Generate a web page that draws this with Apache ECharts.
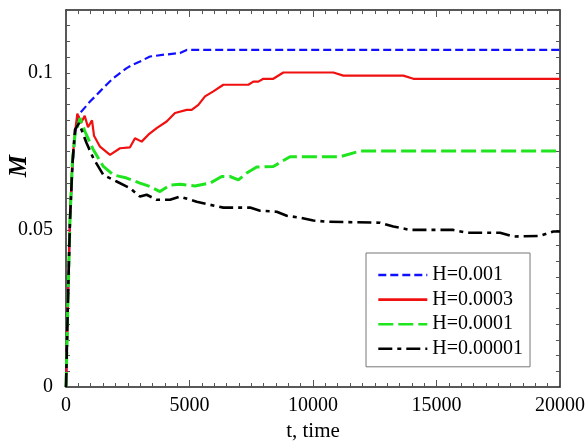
<!DOCTYPE html>
<html>
<head>
    <meta charset="utf-8"/>
    <title>M vs time</title>
    <script src="https://cdn.jsdelivr.net/npm/echarts@6/dist/echarts.min.js"></script>
    <style>
        body { margin: 0; background: #fff; }
    </style>
</head>
<body>
<div id="main" style="width: 587px;height:442px;"></div>
<script type="text/javascript">
    // values
    var tBlue = [0, 80, 160, 260, 364, 460, 567, 770, 972, 1180, 1377, 1650, 1917, 2200, 2456, 2730, 2996, 3400, 4000, 4616, 4886, 20000];
    var mBlue = [0, 0.028, 0.053, 0.070, 0.080, 0.085, 0.0872, 0.0890, 0.0909, 0.0925, 0.0941, 0.0963, 0.0983, 0.1000, 0.1015, 0.1027, 0.1036, 0.1052, 0.1058, 0.1063, 0.1073, 0.1073];

    var tRed = [0, 80, 160, 260, 364, 459, 607, 757, 891, 1053, 1134, 1377, 1782, 2186, 2591, 2794, 3063, 3333, 3670, 4075, 4413, 4886, 5088, 5358, 5628, 5965, 6370, 7382, 7585, 7787, 7989, 8394, 8799, 10823, 11228, 13658, 14063, 20000];
    var mRed = [0, 0.028, 0.053, 0.072, 0.081, 0.0870, 0.0840, 0.0863, 0.0827, 0.0849, 0.0800, 0.0765, 0.0739, 0.0760, 0.0763, 0.0792, 0.0781, 0.0803, 0.0824, 0.0845, 0.0872, 0.0882, 0.0882, 0.0898, 0.0925, 0.0941, 0.0962, 0.0962, 0.0972, 0.0972, 0.0981, 0.0981, 0.1001, 0.1001, 0.0991, 0.0991, 0.0981, 0.0981];

    var tGreen = [0, 80, 162, 260, 364, 567, 769, 1107, 1512, 1917, 2456, 2996, 3401, 3806, 4211, 4616, 5223, 5831, 6303, 6640, 6977, 7316, 7722, 8394, 9070, 11094, 11904, 20000];
    var mGreen = [0, 0.028, 0.0532, 0.072, 0.0803, 0.0856, 0.0813, 0.0755, 0.0702, 0.0675, 0.0665, 0.0649, 0.0638, 0.0622, 0.0643, 0.0645, 0.0640, 0.0649, 0.0670, 0.0670, 0.0659, 0.0681, 0.0700, 0.0702, 0.0733, 0.0733, 0.0751, 0.0751];

    var tBlack = [0, 80, 162, 260, 364, 526, 836, 1107, 1512, 2052, 2591, 2996, 3266, 3670, 4211, 4616, 5291, 5831, 6370, 7450, 7855, 8531, 8936, 9475, 10013, 10553, 12714, 13253, 13928, 15681, 16222, 17573, 18112, 19192, 19731, 20000];
    var mBlack = [0, 0.028, 0.0532, 0.071, 0.0819, 0.0840, 0.0776, 0.0728, 0.0675, 0.0654, 0.0633, 0.0606, 0.0612, 0.0596, 0.0596, 0.0606, 0.0590, 0.0580, 0.0571, 0.0571, 0.0561, 0.0558, 0.0545, 0.0539, 0.0530, 0.0526, 0.0523, 0.0511, 0.0500, 0.0500, 0.0491, 0.0491, 0.0479, 0.0481, 0.0495, 0.0495];

    var names = ['H=0.001', 'H=0.0003', 'H=0.0001', 'H=0.00001'];
    var xTicks = [0, 5000, 10000, 15000, 20000];
    var yTicks = [0, 0.05, 0.1];

    function pairs(t, m) {
        var out = [];
        for (var i = 0; i < t.length; i++) out.push([t[i], m[i]]);
        return out;
    }

    function pick(list, v, eps) {
        for (var i = 0; i < list.length; i++) {
            if (Math.abs(v - list[i]) < eps) return String(list[i]);
        }
        return '';
    }

    var serif = 'Liberation Serif';
    var axisCol = '#222';

    function xAxisCfg(pos, labels) {
        return {
            type: 'value', position: pos, min: 0, max: 20000, interval: 5000,
            axisLine: { show: true, onZero: false, lineStyle: { color: axisCol, width: 1.5 } },
            axisTick: { show: true, inside: true, length: 7, lineStyle: { color: '#555' } },
            minorTick: { show: true, splitNumber: 10, length: 4, lineStyle: { color: '#555' } },
            splitLine: { show: false },
            axisLabel: {
                show: labels, margin: 9, color: '#000', fontFamily: serif, fontSize: 20,
                formatter: function (v) { return pick(xTicks, v, 0.5); }
            }
        };
    }

    function yAxisCfg(pos, labels) {
        return {
            type: 'value', position: pos, min: 0, max: 0.12, interval: 0.005,
            axisLine: { show: true, onZero: false, lineStyle: { color: axisCol, width: 1.5 } },
            axisTick: { show: true, inside: true, length: 4, lineStyle: { color: '#555' } },
            splitLine: { show: false },
            axisLabel: {
                show: labels, margin: 13, color: '#000', fontFamily: serif, fontSize: 20,
                formatter: function (v) { return pick(yTicks, v, 1e-7); }
            }
        };
    }

    var myChart = echarts.init(document.getElementById('main'));
    var option = {
        animation: false,
        backgroundColor: '#fff',
        grid: { left: 66, right: 27, top: 10, bottom: 55, containLabel: false, outerBoundsMode: 'none' },
        xAxis: [
            Object.assign(xAxisCfg('bottom', true), {
                name: 't, time', nameLocation: 'middle', nameGap: 34,
                nameTextStyle: { color: '#000', fontFamily: serif, fontSize: 21 }
            }),
            xAxisCfg('top', false)
        ],
        yAxis: [yAxisCfg('left', true), yAxisCfg('right', false)],
        graphic: [{
            type: 'text', left: 7, top: 155, rotation: Math.PI / 2,
            style: { text: 'M', fill: '#000', font: 'italic bold 25px "Liberation Serif"' }
        }],
        legend: {
            orient: 'vertical', left: 366, top: 253,
            padding: [11, 7, 7, 11],
            itemWidth: 49, itemHeight: 14, itemGap: 2.6,
            borderColor: '#777', borderWidth: 1, backgroundColor: '#fff',
            selectedMode: false,
            itemStyle: { opacity: 0 },
            lineStyle: { width: 2.6 },
            textStyle: { color: '#000', fontFamily: serif, fontSize: 20, lineHeight: 22 },
            data: names
        },
        series: [
            {
                name: names[0], type: 'line', symbol: 'none', data: pairs(tBlue, mBlue),
                lineStyle: { color: '#1010ff', width: 2.2, type: [8, 4] }, itemStyle: { color: '#1010ff' }
            },
            {
                name: names[1], type: 'line', symbol: 'none', data: pairs(tRed, mRed),
                lineStyle: { color: '#f01010', width: 2.2, type: 'solid' }, itemStyle: { color: '#f01010' }
            },
            {
                name: names[2], type: 'line', symbol: 'none', data: pairs(tGreen, mGreen),
                lineStyle: { color: '#1fe51f', width: 3, type: [15, 5] }, itemStyle: { color: '#1fe51f' }
            },
            {
                name: names[3], type: 'line', symbol: 'none', data: pairs(tBlack, mBlack),
                lineStyle: { color: '#000', width: 2.6, type: [14, 5, 4, 5] }, itemStyle: { color: '#000' }
            }
        ]
    };
    myChart.setOption(option);
</script>
</body>
</html>
